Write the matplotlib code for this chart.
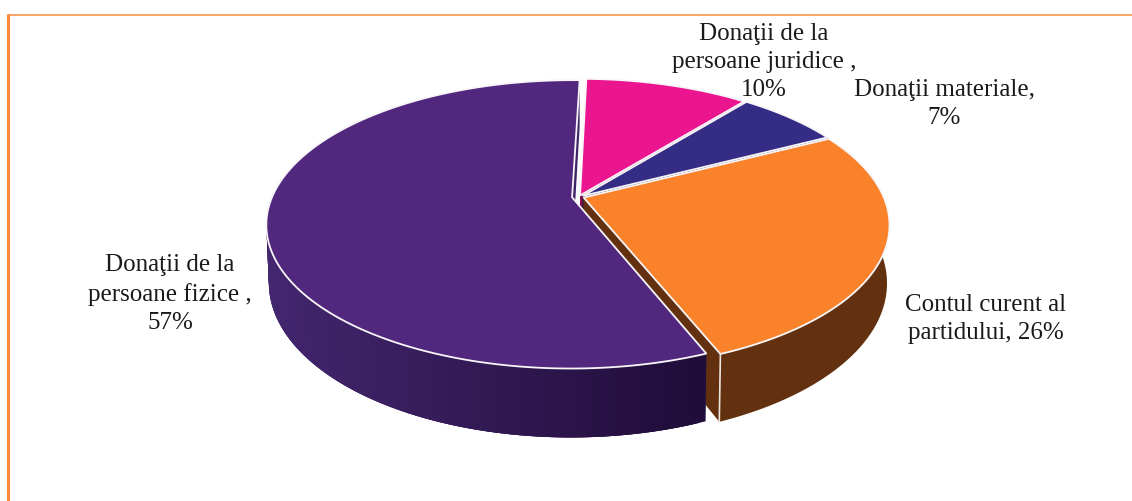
import matplotlib
matplotlib.use("Agg")
import matplotlib.pyplot as plt
import matplotlib.colors as mc
import numpy as np

# slices clockwise from the back of the pie
labels = ["Donaţii de la\npersoane juridice ,\n10%", "Donaţii materiale,\n7%",
          "Contul curent al\npartidului, 26%", "Donaţii de la\npersoane fizice ,\n57%"]
values = [10.4, 6.6, 26.5, 56.5]
top_colors = ["#ec1590", "#352d85", "#f9822b", "#52277e"]
side_colors = ["#8a0c54", "#1b1745", "#63310f", "#3f2468"]
label_xy = [(764, 62), (944, 104), (986, 319), (170, 294)]

# perspective of the pie, in pixels
cx, cy = 578, 197
a, b, k = 300, 139, 0.1875
h0 = 56
explode = 0.02

fig = plt.figure(figsize=(11.32, 5.01), dpi=100)
ax = fig.add_axes([0, 0, 1, 1])
ax.set_xlim(0, 1132)
ax.set_ylim(501, 0)
ax.axis("off")

# orange frame
ax.plot([8, 1132], [14.5, 14.5], color="#fb9d5a", lw=1.3, solid_capstyle="butt")
ax.plot([8, 8], [14, 501], color="#fb8b3a", lw=2.2, solid_capstyle="butt")


def project(t, r, ex, ey, low=False):
    u = r * np.cos(t) + ex
    v = r * np.sin(t) + ey
    s = 1 / (1 + k * v)
    x = cx + a * u * s
    y = cy - b * v * s
    if low:
        x = cx + 0.992 * (x - cx)
        y = y + h0 * s
    return x, y


start = 88.5
for i in range(len(values)):
    span = values[i] / sum(values) * 360
    t0 = np.radians(start)
    t1 = np.radians(start - span)
    mid = (t0 + t1) / 2
    ex, ey = explode * np.cos(mid), 0.6 * explode * np.sin(mid)
    ts = np.linspace(t0, t1, 200)
    top = top_colors[i]
    side = side_colors[i]

    # cut faces
    for t in [t0, t1]:
        x0, y0 = project(t, 0, ex, ey)
        x1, y1 = project(t, 1, ex, ey)
        x2, y2 = project(t, 1, ex, ey, True)
        x3, y3 = project(t, 0, ex, ey, True)
        ax.fill([x0, x1, x2, x3], [y0, y1, y2, y3], color=side, lw=0)

    # outer wall, purple one gets darker to the right
    xt, yt = project(ts, 1, ex, ey)
    xb, yb = project(ts, 1, ex, ey, True)
    if i == 3:
        # drawn left to right and overlapping, so no seams show
        for j in range(len(ts) - 1, 2, -1):
            if np.sin(ts[j]) > 0.25:
                continue
            f = np.clip((xt[j] - 266) / (706 - 266), 0, 1)
            c = np.array(mc.to_rgb("#43266f")) * (1 - f) + np.array(mc.to_rgb("#1f0c37")) * f
            ax.fill([xt[j], xt[j - 3], xb[j - 3], xb[j]], [yt[j], yt[j - 3], yb[j - 3], yb[j]],
                    color=c, lw=0)
    else:
        ax.fill(np.r_[xt, xb[::-1]], np.r_[yt, yb[::-1]], color=side, lw=0)

    # white line down the front corner
    if i == 2:
        xe, ye = project(t1, 1, ex, ey)
        xf, yf = project(t1, 1, ex, ey, True)
        ax.plot([xe, xf], [ye, yf], color="#ece6e0", lw=1.2)

    # top face
    xa, ya = project(0.0, 0, ex, ey)
    ax.fill(np.r_[xa, xt], np.r_[ya, yt], facecolor=top, edgecolor="#f8f6f8", lw=1.3, joinstyle="miter")
    start = start - span

for i in range(len(labels)):
    ax.text(label_xy[i][0], label_xy[i][1], labels[i], ha="center", va="center",
            family="Liberation Serif", fontsize=18, color="#1a1a1a", linespacing=1.38)

fig.savefig("out.png", dpi=100)
